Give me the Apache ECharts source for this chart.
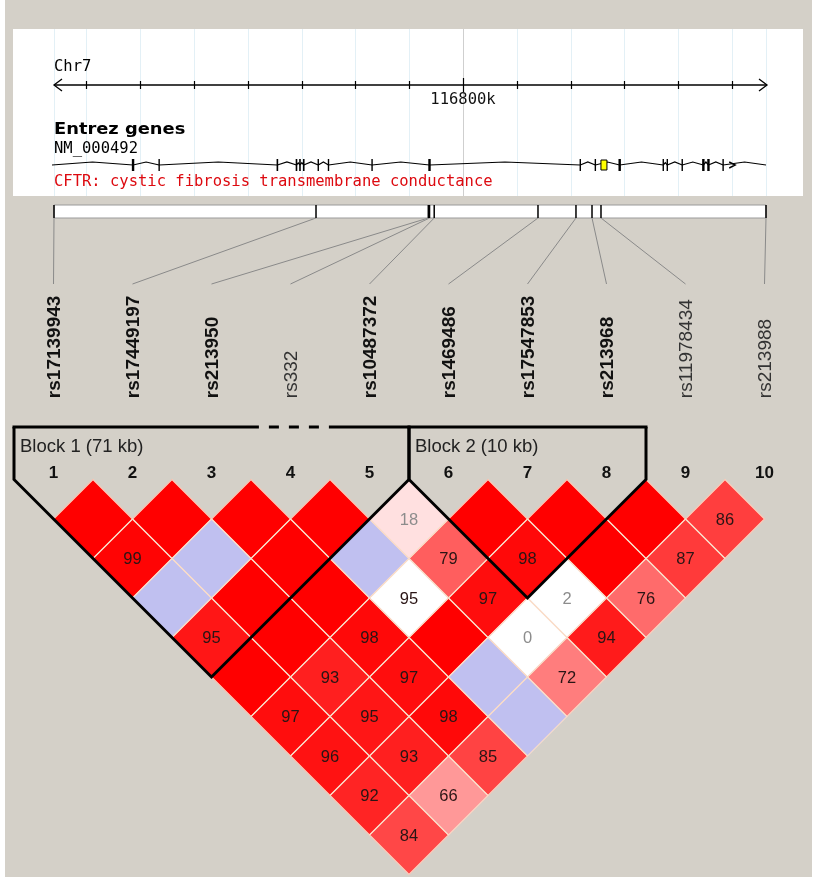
<!DOCTYPE html>
<html><head><meta charset="utf-8">
<script src="https://cdn.jsdelivr.net/npm/echarts@6/dist/echarts.min.js"></script>
<style>html,body{margin:0;padding:0;background:#fff}#c{width:817px;height:882px}</style>
</head><body><div id="c"></div>
<script>
// ---------------- data ----------------
const chromName = 'Chr7';
const geneTrackTitle = 'Entrez genes';
const geneId = 'NM_000492';
const geneLabel = 'CFTR: cystic fibrosis transmembrane conductance';

const snpNames = ['rs17139943','rs17449197','rs213950','rs332','rs10487372','rs1469486','rs17547853','rs213968','rs11978434','rs213988'];
const snpBold  = [true, true, true, false, true, true, true, true, false, false];
const snpPosKb = [116723.98, 116772.68, 116793.55, 116793.78, 116794.65, 116813.94, 116821.00, 116823.98, 116825.65, 116856.32];

const chrTicksKb = [116730,116740,116750,116760,116770,116780,116790,116800,116810,116820,116830,116840,116850];
const chrLabelKb = 116800;
const chrLabel = '116800k';

// exon start (kb) and length (kb)
const exonStartKb = [116738.45,116743.4,116765.35,116768.9,116769.55,116770.25,116773.0,116774.9,116783.0,116793.55,116821.7,116824.5,116828.9,116837.1,116837.85,116840.65,116844.45,116845.4,116848.25];
const exonLenKb   = [0.45,0.25,0.3,0.3,0.3,0.3,0.2,0.2,0.2,0.45,0.2,0.2,0.45,0.25,0.25,0.2,0.45,0.45,0.2];
const highlightKb = 116826.2;
const strandArrowKb = 116850.6;

// LD pairs: [snp i, snp j, D' (x100), LOD>=2 ? 1 : 0]
const ldPairs = [
  [1,2,100,1],[2,3,100,1],[3,4,100,1],[4,5,100,1],[5,6,18,1],[6,7,100,1],[7,8,100,1],[8,9,100,1],[9,10,86,1],
  [1,3,99,1],[2,4,100,0],[3,5,100,1],[4,6,100,0],[5,7,79,1],[6,8,98,1],[7,9,100,1],[8,10,87,1],
  [1,4,100,0],[2,5,100,1],[3,6,100,1],[4,7,95,0],[5,8,97,1],[6,9,2,0],[7,10,76,1],
  [1,5,95,1],[2,6,100,1],[3,7,98,1],[4,8,100,1],[5,9,0,0],[6,10,94,1],
  [1,6,100,1],[2,7,93,1],[3,8,97,1],[4,9,100,0],[5,10,72,1],
  [1,7,97,1],[2,8,95,1],[3,9,98,1],[4,10,100,0],
  [1,8,96,1],[2,9,93,1],[3,10,85,1],
  [1,9,92,1],[2,10,66,1],
  [1,10,84,1]
];

const blockLabels = ['Block 1 (71 kb)', 'Block 2 (10 kb)'];
const blockFirst  = [1, 6];
const blockLast   = [5, 8];

// ---------------- layout / style ----------------
const L = {
  panelX:13, panelY:29, panelW:790, panelH:167,
  chrTextY:67, chrY:85, tickLabelY:100, titleY:130, nmY:149, geneY:165, geneLabelY:182,
  barTop:205, barBottom:218, connEndY:284,
  snpLabelRow:-2.06, blockTopRow:-1.33, blockLabelRow:-0.83, colNumRow:-0.15
};
const blockDash = {0:[3.6,4.5]};
const mono = "'DejaVu Sans Mono', monospace";
const sans = "'Liberation Sans', Arial, sans-serif";

function cellColor(dp, strong){
  if (!strong) return dp >= 100 ? '#c0c0f0' : '#ffffff';
  const v = Math.min(224, Math.round(446 * (1 - dp/100)));
  return 'rgb(255,' + v + ',' + v + ')';
}

function geneTrackRender(params, api){
  const X = kb => api.coord([kb, 0])[0];
  const ch = [];
  const x0 = X(snpPosKb[0]), x1 = X(snpPosKb[snpPosKb.length-1]);
  chrTicksKb.concat([snpPosKb[0], snpPosKb[snpPosKb.length-1]]).forEach(kb=>{
    const x = Math.round(X(kb)) + 0.5;
    ch.push({type:'line', shape:{x1:x,y1:L.panelY,x2:x,y2:L.panelY+L.panelH},
      style:{stroke: kb===chrLabelKb ? '#cfcfcf' : '#e3f0f6', lineWidth:1}, z2:0});
  });
  ch.push({type:'line', shape:{x1:x0,y1:L.chrY,x2:x1+1,y2:L.chrY}, style:{stroke:'#000',lineWidth:1.3}, z2:2});
  ch.push({type:'polyline', shape:{points:[[x0+8,L.chrY-6],[x0,L.chrY],[x0+8,L.chrY+6]]}, style:{stroke:'#000',lineWidth:1.3,fill:null}, z2:2});
  ch.push({type:'polyline', shape:{points:[[x1-7,L.chrY-6],[x1+1,L.chrY],[x1-7,L.chrY+6]]}, style:{stroke:'#000',lineWidth:1.3,fill:null}, z2:2});
  chrTicksKb.forEach(kb=>{
    const x = Math.round(X(kb)) + 0.5;
    const h = kb===chrLabelKb ? 7 : 4;
    ch.push({type:'line', shape:{x1:x,y1:L.chrY-h,x2:x,y2:L.chrY+h}, style:{stroke:'#000',lineWidth:1.2}, z2:2});
  });
  ch.push({type:'text', x:x0, y:L.chrTextY, style:{text:chromName, fill:'#000', font:'15.5px '+mono, align:'left', verticalAlign:'middle'}, z2:3});
  ch.push({type:'text', x:X(chrLabelKb), y:L.tickLabelY, style:{text:chrLabel, fill:'#111', font:'15.5px '+mono, align:'center', verticalAlign:'middle'}, z2:3});
  ch.push({type:'text', x:x0, y:L.titleY, scaleX:1.19, style:{text:geneTrackTitle, fill:'#000', font:"bold 15px 'DejaVu Sans', sans-serif", align:'left', verticalAlign:'middle'}, z2:3});
  ch.push({type:'text', x:x0, y:L.nmY, style:{text:geneId, fill:'#000', font:'15.5px '+mono, align:'left', verticalAlign:'middle'}, z2:3});
  ch.push({type:'text', x:x0, y:L.geneLabelY, style:{text:geneLabel, fill:'#dd0a10', font:'15.5px '+mono, align:'left', verticalAlign:'middle'}, z2:3});
  const gy = L.geneY;
  const pts = [x0-2].concat(exonStartKb.map((s,k)=>X(s + exonLenKb[k]/2))).concat([x1]);
  for (let k=0;k<pts.length-1;k++){
    const a=pts[k], b=pts[k+1];
    const hat = Math.min(3, (b-a)*0.6);
    ch.push({type:'polyline', shape:{points:[[a,gy],[(a+b)/2,gy-hat],[b,gy]]}, style:{stroke:'#000',lineWidth:1.2,fill:null}, z2:2});
  }
  exonStartKb.forEach((s,k)=>{
    const xa = X(s), xb = X(s+exonLenKb[k]);
    const w = Math.max(1.4, xb-xa);
    ch.push({type:'rect', shape:{x:(xa+xb)/2-w/2, y:gy-6, width:w, height:12}, style:{fill:'#000'}, z2:3});
  });
  const hx = X(highlightKb);
  ch.push({type:'rect', shape:{x:hx-3, y:gy-5, width:6, height:10}, style:{fill:'#ffff00', stroke:'#000', lineWidth:1}, z2:4});
  const ax = X(strandArrowKb);
  ch.push({type:'polyline', shape:{points:[[ax-6,gy-3],[ax,gy],[ax-6,gy+3]]}, style:{stroke:'#000',lineWidth:1.4,fill:null}, z2:4});
  ch.push({type:'rect', shape:{x:x0, y:L.barTop, width:x1-x0, height:L.barBottom-L.barTop}, style:{fill:'#fff', stroke:'#9a9a9a', lineWidth:1}, z2:1});
  snpPosKb.forEach(kb=>{
    const x = X(kb);
    ch.push({type:'line', shape:{x1:x,y1:L.barTop,x2:x,y2:L.barBottom}, style:{stroke:'#000',lineWidth:1.5}, z2:2});
  });
  return {type:'group', children:ch};
}

function diamond(api){
  const m = api.value(0), d = api.value(1);
  return [api.coord([m, d-1]), api.coord([m+0.5, d]), api.coord([m, d+1]), api.coord([m-0.5, d])];
}

function cellRender(params, api){
  const dp = api.value(2), strong = api.value(3);
  return {type:'polygon', shape:{points:diamond(api)}, style:{fill:cellColor(dp, strong), stroke:cellColor(dp, strong), lineWidth:0.6}};
}

function cellEdgeRender(params, api){
  const dp = api.value(2);
  const c = api.coord([api.value(0), api.value(1)]);
  const ch = [{type:'polygon', shape:{points:diamond(api)}, style:{fill:null, stroke:'rgba(250,220,200,0.95)', lineWidth:1.1}}];
  if (dp < 100) {
    ch.push({type:'text', x:c[0], y:c[1]+1, style:{text:String(dp), fill: dp < 50 ? '#8c8c8c' : '#2a1515', font:'16.5px '+sans, align:'center', verticalAlign:'middle'}});
  }
  return {type:'group', children:ch};
}

function snpLabelRender(params, api){
  const i = api.value(0);
  const k = params.dataIndex;
  const p = api.coord([i, L.snpLabelRow]);
  const n = api.coord([i, L.colNumRow]);
  return {type:'group', children:[
    {type:'text', x:p[0]+1, y:p[1], rotation:Math.PI/2, style:{text:snpNames[k], fill: snpBold[k] ? '#111' : '#333',
      font:(snpBold[k] ? 'bold ' : '') + '19px ' + sans, align:'left', verticalAlign:'middle'}},
    {type:'text', x:n[0], y:n[1], style:{text:String(i), fill:'#111', font:'bold 17px '+sans, align:'center', verticalAlign:'middle'}}
  ]};
}

function blockRender(params, api){
  const k = params.dataIndex;
  const f = api.value(0), l = api.value(1);
  const Ltop = api.coord([f-0.5, L.blockTopRow]), L0 = api.coord([f-0.5, 0]);
  const Rtop = api.coord([l+0.5, L.blockTopRow]), R0 = api.coord([l+0.5, 0]);
  const B = api.coord([(f+l)/2, l-f+1]);
  const st = {stroke:'#000', lineWidth:3, fill:null, lineJoin:'miter'};
  const ch = [{type:'polyline', shape:{points:[Ltop, L0, B, R0, Rtop]}, style:st}];
  if (blockDash[k]) {
    const a = api.coord([blockDash[k][0], L.blockTopRow]), b = api.coord([blockDash[k][1], L.blockTopRow]);
    ch.push({type:'line', shape:{x1:Ltop[0]-1.5,y1:Ltop[1],x2:a[0],y2:a[1]}, style:{stroke:'#000',lineWidth:3}});
    ch.push({type:'line', shape:{x1:a[0],y1:a[1],x2:b[0],y2:b[1]}, style:{stroke:'#000',lineWidth:3,lineDash:[10,10],lineDashOffset:10}});
    ch.push({type:'line', shape:{x1:b[0],y1:b[1],x2:Rtop[0]+1.5,y2:Rtop[1]}, style:{stroke:'#000',lineWidth:3}});
  } else {
    ch.push({type:'line', shape:{x1:Ltop[0]-1.5,y1:Ltop[1],x2:Rtop[0]+1.5,y2:Rtop[1]}, style:{stroke:'#000',lineWidth:3}});
  }
  const t = api.coord([f-0.5, L.blockLabelRow]);
  ch.push({type:'text', x:t[0]+6, y:t[1], style:{text:blockLabels[k], fill:'#222', font:'18.5px '+sans, align:'left', verticalAlign:'middle'}});
  return {type:'group', children:ch};
}

function buildOption(conn){
  const cellData = ldPairs.map(p=>[(p[0]+p[1])/2, p[1]-p[0], p[2], p[3]]);
  return {
    backgroundColor:'#ffffff',
    animation:false,
    graphic:[
      {type:'rect', z:-10, shape:{x:5, y:0, width:807, height:877}, style:{fill:'#d4d0c8'}},
      {type:'rect', z:-9, shape:{x:L.panelX, y:L.panelY, width:L.panelW, height:L.panelH}, style:{fill:'#ffffff'}}
    ],
    grid:[
      {left:54, width:712, top:28, height:190},
      {left:14, width:790, top:479.5, height:355.5}
    ],
    xAxis:[
      {gridIndex:0, type:'value', min:snpPosKb[0], max:snpPosKb[snpPosKb.length-1], show:false},
      {gridIndex:1, type:'value', min:0.5, max:10.5, show:false}
    ],
    yAxis:[
      {gridIndex:0, type:'value', min:0, max:1, show:false},
      {gridIndex:1, type:'value', min:0, max:9, inverse:true, show:false}
    ],
    series:[
      {id:'gene', type:'custom', xAxisIndex:0, yAxisIndex:0, data:[[snpPosKb[0],0]], renderItem:geneTrackRender, silent:true, z:2},
      {id:'conn', type:'custom', coordinateSystem:'none', data:conn, silent:true, z:2,
        renderItem:(p,api)=>({type:'line', shape:{x1:api.value(0),y1:L.barBottom,x2:api.value(1),y2:L.connEndY}, style:{stroke:'#8a8a8a',lineWidth:1}})},
      {id:'cells', type:'custom', xAxisIndex:1, yAxisIndex:1, data:cellData, renderItem:cellRender, silent:true, z:3},
      {id:'edges', type:'custom', xAxisIndex:1, yAxisIndex:1, data:cellData, renderItem:cellEdgeRender, silent:true, z:4},
      {id:'labels', type:'custom', xAxisIndex:1, yAxisIndex:1, data:snpNames.map((s,k)=>[k+1, 0]), renderItem:snpLabelRender, silent:true, z:4},
      {id:'blocks', type:'custom', xAxisIndex:1, yAxisIndex:1, data:blockFirst.map((f,k)=>[f, blockLast[k]]), renderItem:blockRender, silent:true, z:5}
    ]
  };
}

const chart = echarts.init(document.getElementById('c'), null, {renderer:'canvas'});
chart.setOption(buildOption([]));
const conn = snpPosKb.map((kb,k)=>{
  const a = chart.convertToPixel({gridIndex:0}, [kb, 0]);
  const b = chart.convertToPixel({gridIndex:1}, [k+1, 0]);
  return [a[0], b[0]];
});
chart.setOption(buildOption(conn), true);
</script></body></html>
